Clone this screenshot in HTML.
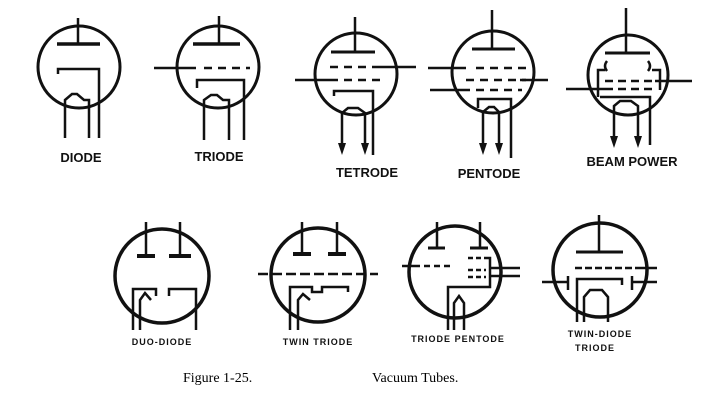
<!DOCTYPE html>
<html><head><style>
html,body{margin:0;padding:0;background:#fff;}
svg{display:block;}
.l{font-family:"Liberation Sans",sans-serif;font-weight:bold;font-size:13px;fill:#111;text-anchor:middle;}
.s{font-family:"Liberation Sans",sans-serif;font-weight:bold;font-size:9px;fill:#111;text-anchor:middle;letter-spacing:1px;}
.c{font-family:"Liberation Serif",serif;font-size:14px;fill:#000;}
</style></head><body>
<svg width="722" height="407" viewBox="0 0 722 407" xmlns="http://www.w3.org/2000/svg">
<rect width="722" height="407" fill="#fff"/>
<g fill="none" stroke="#111" stroke-width="2.5">
<!-- DIODE -->
<circle cx="79" cy="67" r="41" stroke-width="3"/>
<line x1="78" y1="18" x2="78" y2="44"/>
<line x1="57" y1="44" x2="100" y2="44" stroke-width="3.5"/>
<polyline points="58,74 58,69 99,69 99,138"/>
<polyline points="65,138 65,100 72,94 77,94 84,100 89,100 89,138"/>
<!-- TRIODE -->
<circle cx="218" cy="67" r="41" stroke-width="3"/>
<line x1="219" y1="16" x2="219" y2="44"/>
<line x1="193" y1="44" x2="240" y2="44" stroke-width="3.5"/>
<line x1="154" y1="68" x2="196" y2="68"/>
<line x1="204" y1="68" x2="250" y2="68" stroke-dasharray="8,6"/>
<polyline points="197,88 197,80 244,80 244,140"/>
<polyline points="204,140 204,100 211,95 217,95 223,100 229,100 229,140"/>
<!-- TETRODE -->
<circle cx="356" cy="74" r="41" stroke-width="3"/>
<line x1="355" y1="17" x2="355" y2="52"/>
<line x1="331" y1="52" x2="375" y2="52" stroke-width="3"/>
<line x1="330" y1="67" x2="380" y2="67" stroke-dasharray="8,6"/>
<line x1="380" y1="67" x2="416" y2="67"/>
<line x1="295" y1="80" x2="330" y2="80"/>
<line x1="330" y1="80" x2="386" y2="80" stroke-dasharray="8,6"/>
<polyline points="334,96 334,91 373,91 373,155"/>
<polyline points="342,145 342,113 348,108 358,108 365,113 365,145"/>
<!-- PENTODE -->
<circle cx="493" cy="72" r="41" stroke-width="3"/>
<line x1="492" y1="10" x2="492" y2="50"/>
<line x1="472" y1="49" x2="515" y2="49" stroke-width="3"/>
<line x1="428" y1="68" x2="466" y2="68"/>
<line x1="476" y1="68" x2="526" y2="68" stroke-dasharray="8,6"/>
<line x1="466" y1="80" x2="526" y2="80" stroke-dasharray="8,6"/>
<line x1="520" y1="80" x2="548" y2="80"/>
<line x1="430" y1="90" x2="470" y2="90"/>
<line x1="476" y1="90" x2="522" y2="90" stroke-dasharray="8,6"/>
<polyline points="478,108 478,99 511,99 511,158"/>
<polyline points="483,145 483,112 489,107 494,107 499,112 499,145"/>
<!-- BEAM POWER -->
<circle cx="628" cy="75" r="40" stroke-width="3"/>
<line x1="626" y1="8" x2="626" y2="53"/>
<line x1="605" y1="53" x2="650" y2="53" stroke-width="3"/>
<path d="M607,61 q-4,5 0,10 M648,61 q4,5 0,10"/>
<polyline points="605,70 598,70 598,97"/>
<polyline points="652,70 660,70 660,90"/>
<line x1="605" y1="81" x2="655" y2="81" stroke-dasharray="8,5"/>
<line x1="655" y1="81" x2="692" y2="81"/>
<line x1="566" y1="89" x2="605" y2="89"/>
<line x1="605" y1="89" x2="655" y2="89" stroke-dasharray="8,5"/>
<polyline points="600,97 650,97 650,145"/>
<polyline points="614,138 614,106 620,101 631,101 638,106 638,138"/>
<!-- DUO-DIODE -->
<circle cx="162" cy="276" r="47" stroke-width="3.5"/>
<line x1="146" y1="222" x2="146" y2="256"/>
<line x1="180" y1="222" x2="180" y2="256"/>
<line x1="137" y1="256" x2="155" y2="256" stroke-width="4"/>
<line x1="169" y1="256" x2="191" y2="256" stroke-width="4"/>
<polyline points="133,330 133,289 156,289 156,296"/>
<polyline points="196,330 196,289 169,289 169,296"/>
<polyline points="140,330 140,300 145,293 151,300 q11,10 22,0 L177,293 183,300 183,330"/>
<!-- TWIN TRIODE -->
<circle cx="318" cy="275" r="47" stroke-width="3.5"/>
<line x1="302" y1="222" x2="302" y2="254"/>
<line x1="337" y1="222" x2="337" y2="254"/>
<line x1="293" y1="254" x2="311" y2="254" stroke-width="4"/>
<line x1="328" y1="254" x2="346" y2="254" stroke-width="4"/>
<line x1="258" y1="274" x2="378" y2="274" stroke-dasharray="10,4"/>
<polyline points="290,330 290,287 312,287 312,292 322,292 322,287 348,287 348,292"/>
<polyline points="298,330 298,300 303,294 310,300 q8,8 16,0 L331,294 336,300 336,330"/>
<!-- TRIODE PENTODE -->
<circle cx="455" cy="272" r="46" stroke-width="3.5"/>
<line x1="437" y1="222" x2="437" y2="248"/>
<line x1="480" y1="222" x2="480" y2="248"/>
<line x1="428" y1="248" x2="445" y2="248" stroke-width="3"/>
<line x1="470" y1="248" x2="488" y2="248" stroke-width="3"/>
<line x1="402" y1="266" x2="420" y2="266"/>
<line x1="424" y1="266" x2="452" y2="266" stroke-dasharray="6,4"/>
<line x1="468" y1="258" x2="486" y2="258" stroke-dasharray="5,3"/>
<line x1="468" y1="270" x2="486" y2="270" stroke-dasharray="5,3"/>
<line x1="468" y1="277" x2="486" y2="277" stroke-dasharray="5,3"/>
<polyline points="486,258 490,258 490,287 448,287 448,330"/>
<line x1="490" y1="268" x2="520" y2="268"/>
<line x1="490" y1="276" x2="520" y2="276"/>
<polyline points="454,330 454,303 459,296 464,303 464,330"/>
<!-- TWIN-DIODE TRIODE -->
<circle cx="600" cy="270" r="47" stroke-width="3.5"/>
<line x1="599" y1="215" x2="599" y2="252"/>
<line x1="576" y1="252" x2="623" y2="252" stroke-width="3"/>
<line x1="575" y1="268" x2="640" y2="268" stroke-dasharray="7,3"/>
<line x1="640" y1="268" x2="657" y2="268"/>
<line x1="542" y1="282" x2="568" y2="282"/>
<line x1="568" y1="276" x2="568" y2="290"/>
<line x1="632" y1="282" x2="657" y2="282"/>
<line x1="632" y1="276" x2="632" y2="290"/>
<polyline points="577,322 577,279 622,279 622,285"/>
<polyline points="584,322 584,297 590,290 602,290 608,297 608,322"/>
</g>
<g fill="#111">
<polygon points="338,143 346,143 342,155"/>
<polygon points="361,143 369,143 365,155"/>
<polygon points="479,143 487,143 483,155"/>
<polygon points="495,143 503,143 499,155"/>
<polygon points="610,136 618,136 614,148"/>
<polygon points="634,136 642,136 638,148"/>
</g>
<text class="l" x="81" y="162">DIODE</text>
<text class="l" x="219" y="161">TRIODE</text>
<text class="l" x="367" y="177">TETRODE</text>
<text class="l" x="489" y="178">PENTODE</text>
<text class="l" x="632" y="166">BEAM POWER</text>
<text class="s" x="162" y="345">DUO-DIODE</text>
<text class="s" x="318" y="345">TWIN TRIODE</text>
<text class="s" x="458" y="342">TRIODE PENTODE</text>
<text class="s" x="600" y="337">TWIN-DIODE</text>
<text class="s" x="595" y="351">TRIODE</text>
<text class="c" x="183" y="382">Figure 1-25.</text>
<text class="c" x="372" y="382">Vacuum Tubes.</text>
</svg>
</body></html>
